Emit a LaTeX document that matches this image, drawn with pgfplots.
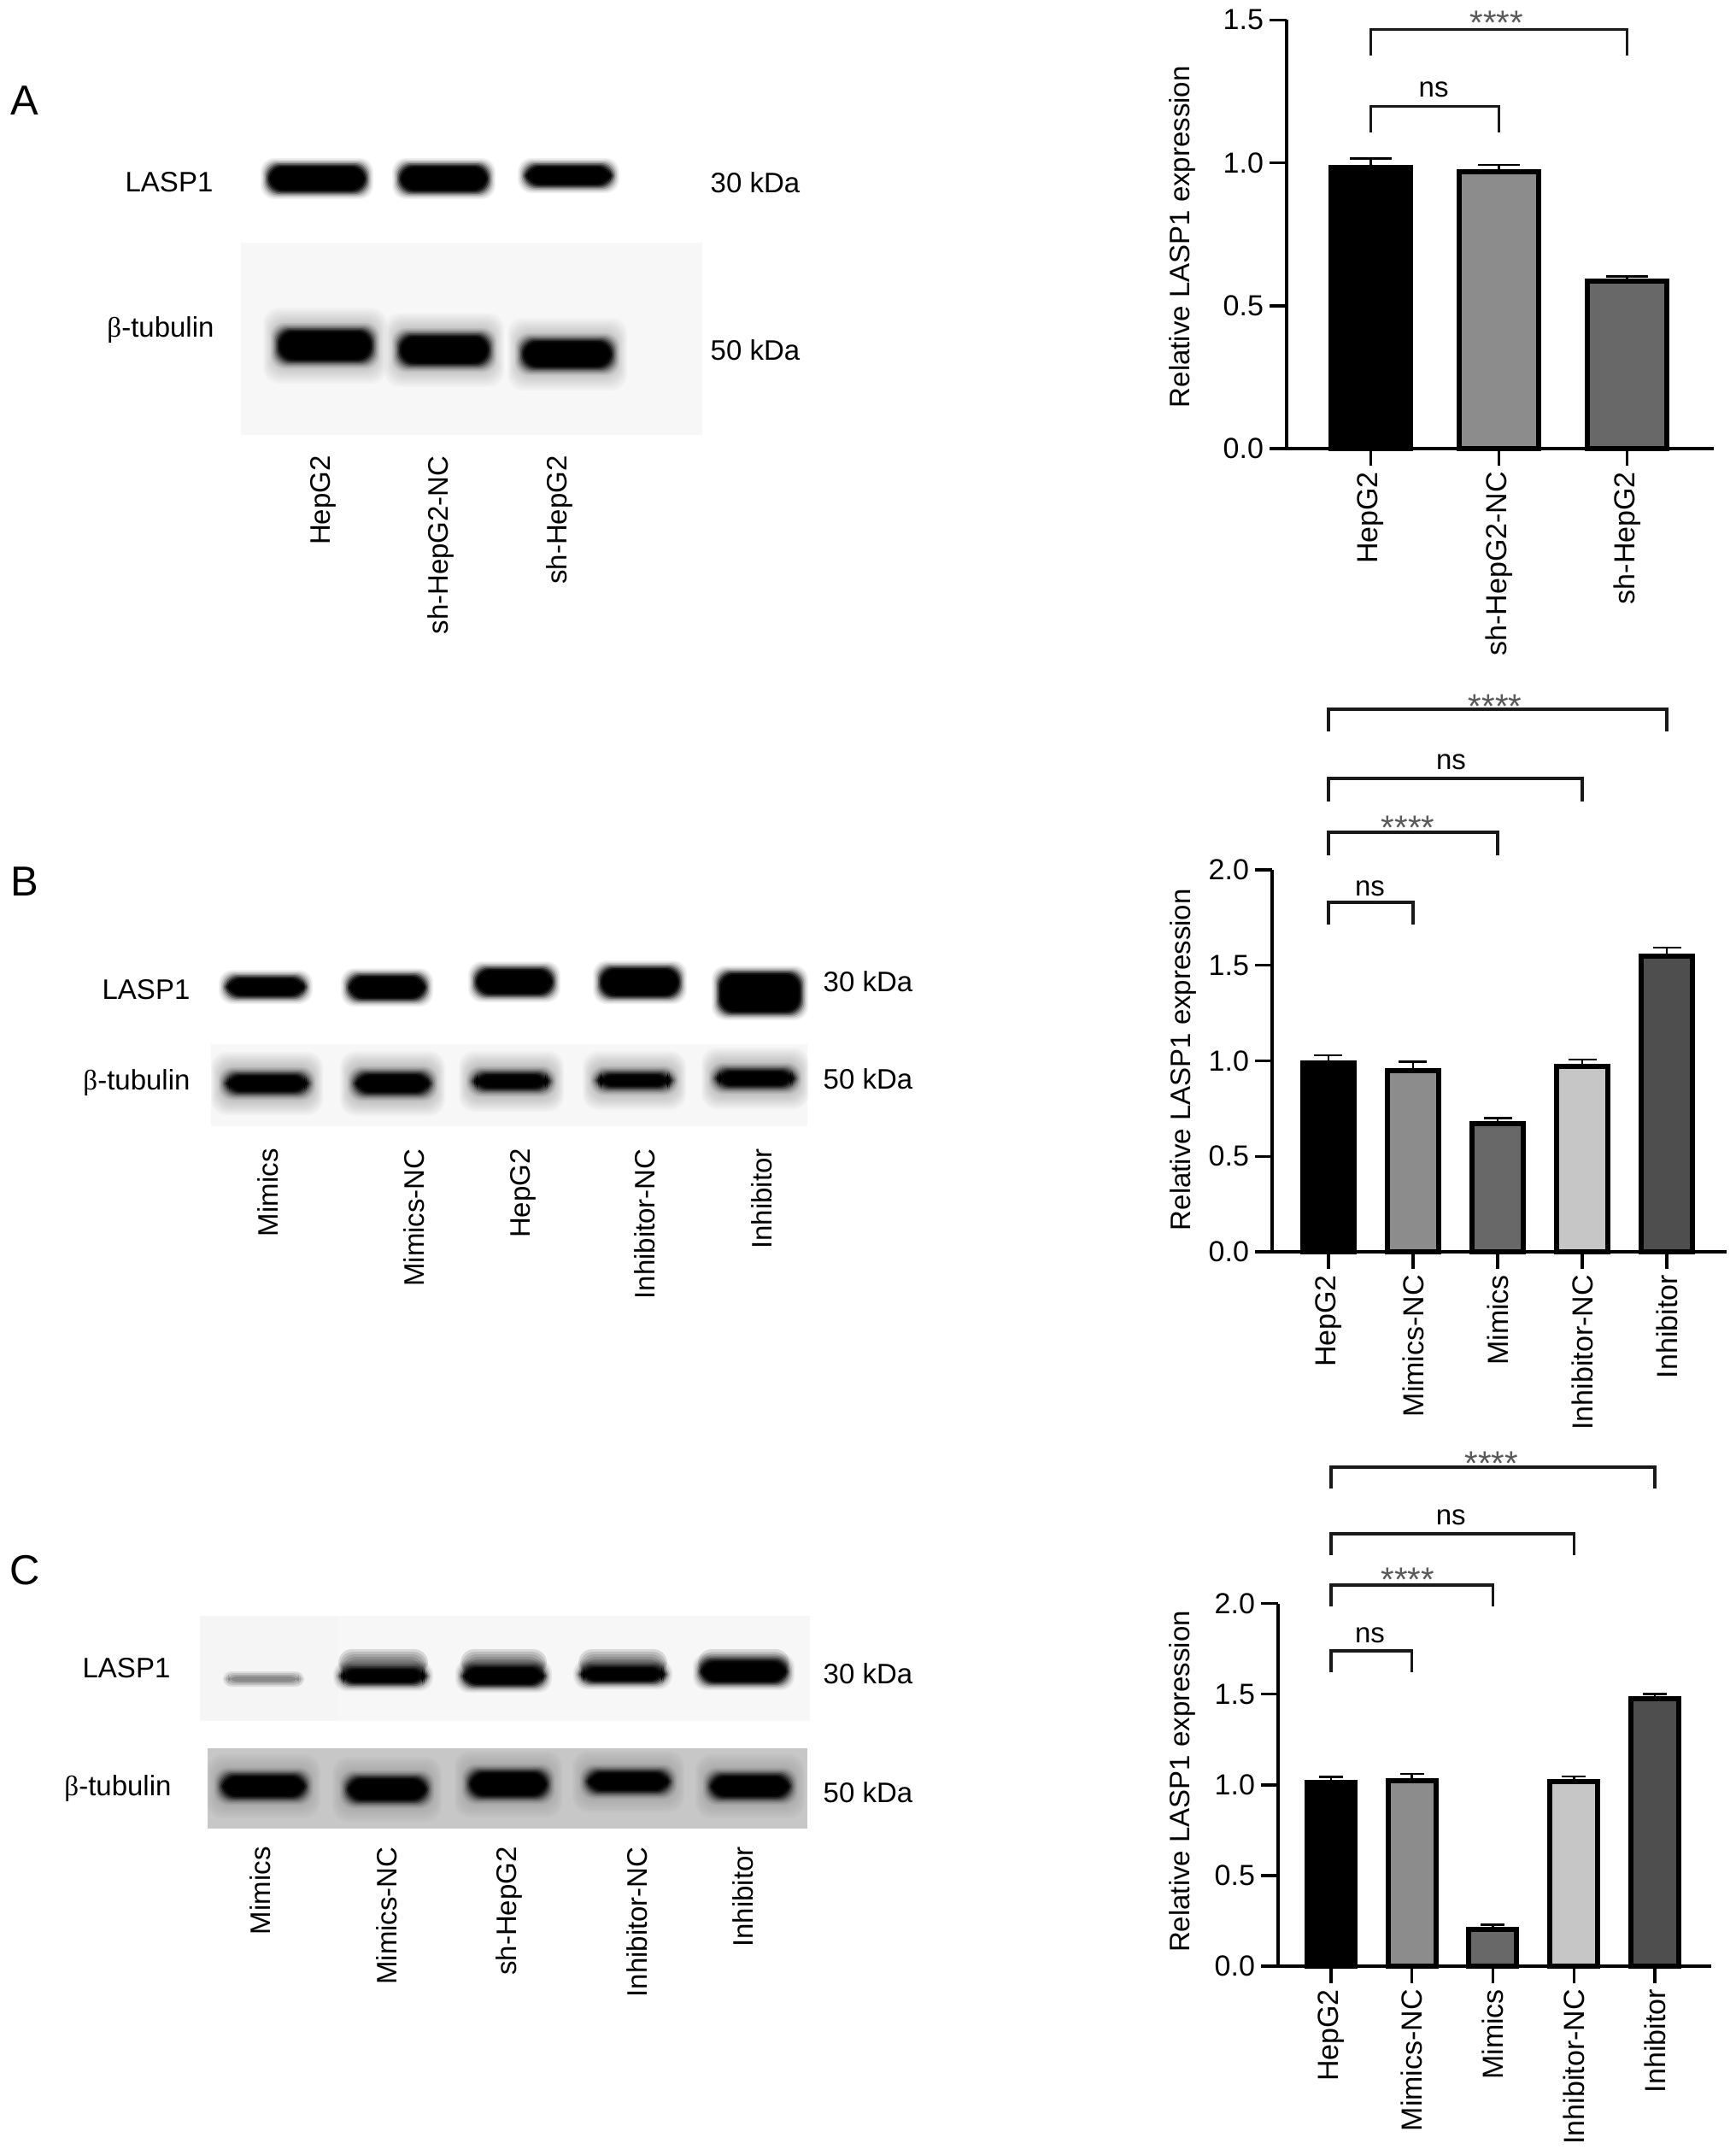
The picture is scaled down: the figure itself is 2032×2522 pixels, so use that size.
\documentclass[border=0pt]{standalone}
\usepackage{fontspec}
\setmainfont{Liberation Sans}
\newfontfamily\betaf{Liberation Serif}
\usepackage{pgfplots}
\pgfplotsset{compat=1.18}
\newcommand{\lab}{\fontsize{16.5pt}{18pt}\selectfont}
\newcommand{\tickf}{\fontsize{17pt}{18pt}\selectfont}
\newcommand{\letf}{\fontsize{24.5pt}{26pt}\selectfont}
\newcommand{\starf}{\fontsize{20pt}{20pt}\selectfont}
\definecolor{c1}{HTML}{000000}
\definecolor{c2}{HTML}{8C8C8C}
\definecolor{c3}{HTML}{686868}
\definecolor{c4}{HTML}{C6C6C6}
\definecolor{c5}{HTML}{4E4E4E}
\newcommand{\band}[4]{%
  \foreach \e/\o in {6/.06,4.5/.08,3/.12,1.5/.2,0/.3,-1.5/.45,-3/.65,-4.5/.85,-6/1}{%
    \fill[black,opacity=\o,rounded corners=8pt] (#1-\e,#2-\e) rectangle (#3+\e,#4+\e);}}
\newcommand{\halo}[5]{%
  \foreach \e in {24,22,20,18,16,14,12,10,8,6,4,2}{%
    \fill[black,opacity=#5,rounded corners=9pt] (#1-\e/1.6,#2-\e) rectangle (#3+\e/1.6,#4+\e);}}
\newcommand{\blotlab}[3]{\node[rotate=90,anchor=east,font=\lab,inner sep=0pt] at (#1,#2) {#3};}
\newcommand{\txt}[3]{\node[font=\lab,inner sep=0pt,anchor=center] at (#1,#2) {#3};}
\newcommand{\bet}{{\betaf β}}
\tikzset{
  stars/.style={font=\starf,text=black!65,inner sep=0pt,anchor=center},
  nsl/.style={font=\lab,inner sep=0pt,anchor=center},
}
\pgfplotsset{
  prism/.style={
    scale only axis, axis lines=left, axis line style={-,line width=1.7pt},
    tick style={line width=1.7pt,black}, major tick length=10pt, tick align=outside,
    clip=false, ymin=0, xtick={0,...,#1},
    ticklabel style={font=\tickf},
    yticklabel style={/pgf/number format/fixed,/pgf/number format/fixed zerofill,/pgf/number format/precision=1,/pgf/number format/assume math mode=true},
    xticklabel style={rotate=90,anchor=east},
    ylabel={Relative LASP1 expression},
  },
  mybar/.style n args={2}{ybar,bar shift=0pt,bar width=#1,draw=black,line width=3pt,
    error bars/y dir=plus,error bars/y explicit,
    error bars/error bar style={line width=1.3pt,black},
    error bars/error mark options={rotate=90,mark size=#2,line width=1.3pt,black,solid}},
  brk/.style={no marks,sharp plot,black!90,line width=1.7pt,line join=miter},
}
\begin{document}
\begin{tikzpicture}[x=0.5pt,y=-0.5pt]
\fill[white] (0,0) rectangle (2032,2522);
\path[use as bounding box] (0,0) rectangle (2032,2522);

% ---------- Panel A blots
\node[font=\letf,inner sep=0pt] at (29,118) {A};
\txt{198}{213}{LASP1}
\band{311}{191}{431}{227}
\band{465}{191}{574}{227}
\band{612}{191}{719}{220}
\txt{884}{214}{30 kDa}
\txt{188}{386}{\bet-tubulin}
\fill[black!3] (282,284) rectangle (822,509);
\fill[black!3,rounded corners=8pt] (310,300) rectangle (455,400);
\fill[black!3,rounded corners=8pt] (460,300) rectangle (590,400);
\fill[black!3,rounded corners=8pt] (600,300) rectangle (725,400);
\halo{323}{384}{438}{425}{.018}
\halo{465}{390}{575}{429}{.018}
\halo{609}{396}{719}{433}{.018}
\band{323}{384}{438}{425}
\band{465}{390}{575}{429}
\band{609}{396}{719}{433}
\txt{884}{410}{50 kDa}
\blotlab{378}{533}{HepG2}
\blotlab{516}{533}{sh-HepG2-NC}
\blotlab{655}{533}{sh-HepG2}

% ---------- Panel B blots
\node[font=\letf,inner sep=0pt] at (29,1032) {B};
\txt{171}{1158}{LASP1}
\band{262}{1141}{360}{1169}
\band{405}{1139}{501}{1172}
\band{554}{1131}{650}{1167}
\band{700}{1130}{798}{1169}
\band{839}{1136}{940}{1188}
\txt{1016}{1149}{30 kDa}
\txt{160}{1267}{\bet-tubulin}
\fill[black!3] (247,1222) rectangle (945,1318);
\halo{262}{1255}{363}{1281}{.025}
\halo{413}{1254}{506}{1282}{.025}
\halo{552}{1254}{645}{1277}{.025}
\halo{697}{1254}{788}{1275}{.025}
\halo{836}{1250}{932}{1274}{.025}
\band{262}{1255}{363}{1281}
\band{413}{1254}{506}{1282}
\band{552}{1254}{645}{1277}
\band{697}{1254}{788}{1275}
\band{836}{1250}{932}{1274}
\txt{1016}{1263}{50 kDa}
\blotlab{314}{1344}{Mimics}
\blotlab{485}{1344}{Mimics-NC}
\blotlab{612}{1344}{HepG2}
\blotlab{755}{1344}{Inhibitor-NC}
\blotlab{892}{1344}{Inhibitor}

% ---------- Panel C blots
\node[font=\letf,inner sep=0pt] at (29,1838) {C};
\txt{148}{1952}{LASP1}
\fill[black!4] (234,1891) rectangle (948,2014);
\fill[black!3] (396,1891) rectangle (948,2014);
\foreach \e/\o in {3/.1,1/.12,-1/.14,-3/.16}{
  \fill[black,opacity=\o,rounded corners=5pt] (264-\e,1959-\e) rectangle (353+\e,1971+\e);}
\foreach \a/\b in {396/501,539/640,677/781,817/924}{
  \foreach \e in {0,3,6,9,12}{
    \fill[black,opacity=.12,rounded corners=8pt] (\a+\e/2,1930+\e) rectangle (\b-\e/2,1962);}
}
\band{396}{1950}{501}{1973}
\band{539}{1948}{640}{1975}
\band{677}{1948}{781}{1971}
\band{817}{1941}{924}{1972}
\txt{1016}{1959}{30 kDa}
\txt{138}{2093}{\bet-tubulin}
\fill[black!22] (243,2046) rectangle (945,2140);
\halo{257}{2077}{360}{2104}{.014}
\halo{404}{2080}{502}{2108}{.014}
\halo{547}{2073}{643}{2103}{.014}
\halo{685}{2073}{786}{2097}{.014}
\halo{829}{2077}{927}{2104}{.014}
\band{257}{2075}{360}{2106}
\band{404}{2078}{502}{2110}
\band{547}{2071}{643}{2105}
\band{685}{2071}{786}{2099}
\band{829}{2075}{927}{2106}
\txt{1016}{2098}{50 kDa}
\blotlab{305}{2161}{Mimics}
\blotlab{453}{2161}{Mimics-NC}
\blotlab{596}{2161}{sh-HepG2}
\blotlab{746}{2161}{Inhibitor-NC}
\blotlab{870}{2161}{Inhibitor}

% ---------- Panel A bars
\begin{axis}[prism=2,at={(753pt,-262.5pt)},anchor=south west,width=250pt,height=250.8pt,
  xmin=-0.657,xmax=2.676,ymax=1.5,ytick={0,0.5,1,1.5},
  xticklabels={HepG2,sh-HepG2-NC,sh-HepG2},
  every axis y label/.style={at={(axis description cs:-0.244,0.494)},rotate=90,anchor=center,font=\lab}]
\addplot[mybar={46.5pt}{12.25pt},fill=c1] coordinates {(0,0.984) +- (0,0.032)};
\addplot[mybar={46.5pt}{12.25pt},fill=c2] coordinates {(1,0.970) +- (0,0.023)};
\addplot[mybar={46.5pt}{12.25pt},fill=c3] coordinates {(2,0.587) +- (0,0.016)};
\addplot[brk] coordinates {(0,1.377)(0,1.467)(2,1.467)(2,1.377)};
\addplot[brk] coordinates {(0,1.105)(0,1.198)(1,1.198)(1,1.105)};
\node[stars] at (axis cs:0.98,1.49) {****};
\node[nsl] at (axis cs:0.49,1.258) {ns};
\end{axis}

% ---------- Panel B bars
\begin{axis}[prism=4,at={(744.5pt,-732.5pt)},anchor=south west,width=266pt,height=223.5pt,
  xmin=-0.665,xmax=4.705,ymax=2,ytick={0,0.5,1,1.5,2},
  xticklabels={HepG2,Mimics-NC,Mimics,Inhibitor-NC,Inhibitor},
  every axis y label/.style={at={(axis description cs:-0.195,0.503)},rotate=90,anchor=center,font=\lab}]
\addplot[mybar={30pt}{8.25pt},fill=c1] coordinates {(0,0.989) +- (0,0.041)};
\addplot[mybar={30pt}{8.25pt},fill=c2] coordinates {(1,0.949) +- (0,0.047)};
\addplot[mybar={30pt}{8.25pt},fill=c3] coordinates {(2,0.669) +- (0,0.031)};
\addplot[mybar={30pt}{8.25pt},fill=c4] coordinates {(3,0.969) +- (0,0.037)};
\addplot[mybar={30pt}{8.25pt},fill=c5] coordinates {(4,1.547) +- (0,0.046)};
\addplot[brk] coordinates {(0,1.714)(0,1.830)(1,1.830)(1,1.714)};
\addplot[brk] coordinates {(0,2.076)(0,2.197)(2,2.197)(2,2.076)};
\addplot[brk] coordinates {(0,2.358)(0,2.479)(3,2.479)(3,2.358)};
\addplot[brk] coordinates {(0,2.725)(0,2.841)(4,2.841)(4,2.725)};
\node[nsl] at (axis cs:0.49,1.902) {ns};
\node[stars] at (axis cs:0.94,2.22) {****};
\node[nsl] at (axis cs:1.45,2.564) {ns};
\node[stars] at (axis cs:1.97,2.855) {****};
\end{axis}

% ---------- Panel C bars
\begin{axis}[prism=4,at={(748pt,-1150.5pt)},anchor=south west,width=253.5pt,height=212.2pt,
  xmin=-0.654,xmax=4.697,ymax=2,ytick={0,0.5,1,1.5,2},
  xticklabels={HepG2,Mimics-NC,Mimics,Inhibitor-NC,Inhibitor},
  every axis y label/.style={at={(axis description cs:-0.221,0.509)},rotate=90,anchor=center,font=\lab}]
\addplot[mybar={28pt}{7pt},fill=c1] coordinates {(0,1.012) +- (0,0.032)};
\addplot[mybar={28pt}{7pt},fill=c2] coordinates {(1,1.022) +- (0,0.038)};
\addplot[mybar={28pt}{7pt},fill=c3] coordinates {(2,0.203) +- (0,0.025)};
\addplot[mybar={28pt}{7pt},fill=c4] coordinates {(3,1.018) +- (0,0.029)};
\addplot[mybar={28pt}{7pt},fill=c5] coordinates {(4,1.475) +- (0,0.025)};
\addplot[brk] coordinates {(0,1.621)(0,1.739)(1,1.739)(1,1.621)};
\addplot[brk] coordinates {(0,1.984)(0,2.102)(2,2.102)(2,1.984)};
\addplot[brk] coordinates {(0,2.267)(0,2.385)(3,2.385)(3,2.267)};
\addplot[brk] coordinates {(0,2.634)(0,2.752)(4,2.752)(4,2.634)};
\node[nsl] at (axis cs:0.48,1.824) {ns};
\node[stars] at (axis cs:0.95,2.13) {****};
\node[nsl] at (axis cs:1.48,2.474) {ns};
\node[stars] at (axis cs:1.98,2.77) {****};
\end{axis}
\end{tikzpicture}
\end{document}
